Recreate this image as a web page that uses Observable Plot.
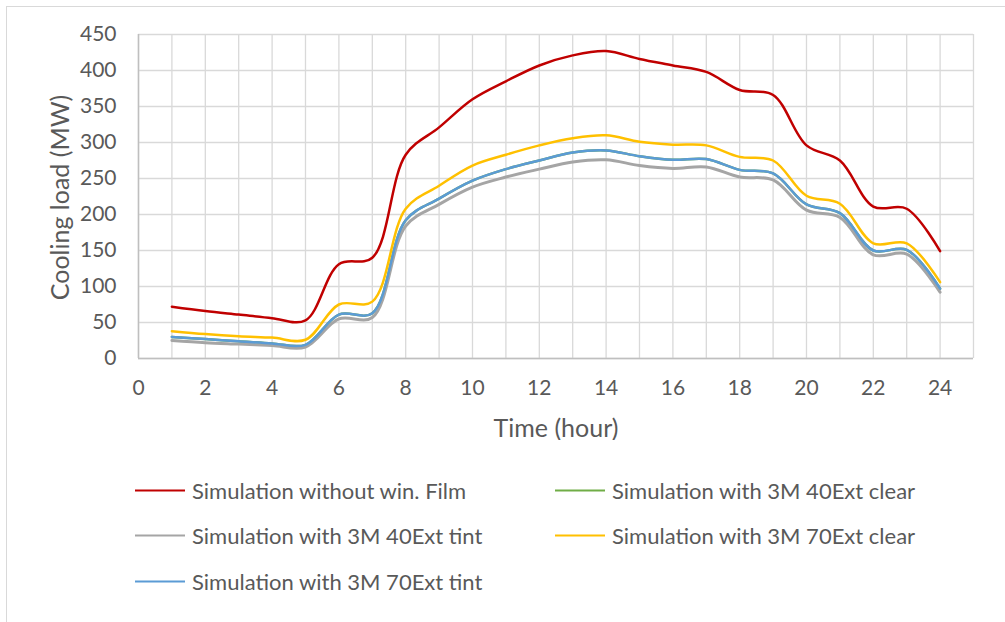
<!DOCTYPE html>
<html>
<head>
<meta charset="utf-8">
<script src="https://cdn.jsdelivr.net/npm/d3@7"></script>
<script src="https://cdn.jsdelivr.net/npm/@observablehq/plot@0.6"></script>
<style>
  html, body { margin: 0; padding: 0; background: #fff; }
  #wrap { position: relative; width: 1005px; height: 622px; font-family: Lato, "Open Sans", sans-serif; overflow: hidden; }
  #frame { position: absolute; left: 6px; top: 6px; width: 1010px; height: 630px; border: 1px solid #d9d9d9; box-sizing: border-box; }
  #chart { position: absolute; left: 0; top: 0; }
  .leg { position: absolute; display: flex; align-items: center; font-size: 22px; color: #595959; white-space: nowrap; transform: translateY(-50%); }
  .leg .sw { width: 50px; height: 0; border-top: 2.5px solid; margin-right: 7px; }
</style>
</head>
<body>
<div id="wrap">
  <div id="frame"></div>
  <div id="chart"></div>
  <div id="legend"></div>
</div>
<script>
const hours = [1,2,3,4,5,6,7,8,9,10,11,12,13,14,15,16,17,18,19,20,21,22,23,24];
const seriesNames = [
  "Simulation without win. Film",
  "Simulation with 3M 40Ext clear",
  "Simulation with 3M 40Ext tint",
  "Simulation with 3M 70Ext clear",
  "Simulation with 3M 70Ext tint"
];
const seriesColors = ["#C00000", "#70AD47", "#A5A5A5", "#FFC000", "#5B9BD5"];
const noFilm    = [72,66,61,56,53,131,140,283,321,360,385,407,421,427,416,407,398,373,366,296,275,211,208,149];
const ext40Clear= [30,27,24,21,19,61,63,192,222,247,263,275,286,289,281,276,277,262,257,214,202,150,151,97];
const ext40Tint = [25,22,20,18,16,55,57,184,214,238,252,263,273,276,268,264,266,252,248,206,196,144,145,92];
const ext70Clear= [38,34,31,29,26,75,79,208,240,268,283,296,306,310,301,297,296,280,275,226,215,160,160,106];
const ext70Tint = [30,27,24,21,19,61,63,192,222,247,263,275,286,289,281,276,277,262,257,214,202,150,151,97];
const xTicks = [0,2,4,6,8,10,12,14,16,18,20,22,24];
const yTicks = [0,50,100,150,200,250,300,350,400,450];
const xTitle = "Time (hour)";
const yTitle = "Cooling load (MW)";

const seriesValues = [noFilm, ext40Clear, ext40Tint, ext70Clear, ext70Tint];
// draw order: green under blue
const drawOrder = [1, 2, 4, 3, 0];
const rows = [];
for (const i of drawOrder) {
  hours.forEach((h, k) => rows.push({series: seriesNames[i], hour: h, value: seriesValues[i][k]}));
}

const chart = Plot.plot({
  width: 1005,
  height: 440,
  marginLeft: 138,
  marginRight: 32,
  marginTop: 34,
  marginBottom: 82,
  style: {fontFamily: "Lato, 'Open Sans', sans-serif", background: "transparent"},
  x: {domain: [0, 25], axis: null},
  y: {domain: [0, 450], axis: null},
  color: {domain: seriesNames, range: seriesColors},
  marks: [
    Plot.gridX(d3.range(0, 26), {stroke: "#d9d9d9", strokeOpacity: 1, strokeWidth: 1.3}),
    Plot.gridY(yTicks, {stroke: "#d9d9d9", strokeOpacity: 1, strokeWidth: 1.3}),
    Plot.ruleX([0], {stroke: "#bfbfbf", strokeWidth: 1.5}),
    Plot.ruleY([0], {stroke: "#bfbfbf", strokeWidth: 1.5}),
    Plot.axisX(xTicks, {tickSize: 0, tickPadding: 22, fontSize: 21, fill: "#595959", label: null}),
    Plot.axisY(yTicks, {tickSize: 0, tickPadding: 22, fontSize: 21, fill: "#595959", label: null}),
    Plot.text([yTitle], {frameAnchor: "left", dx: -78, dy: 1, rotate: -90, textAnchor: "middle", lineAnchor: "middle", fontSize: 25, fill: "#595959"}),
    Plot.text([xTitle], {frameAnchor: "bottom", dy: 70, textAnchor: "middle", lineAnchor: "middle", fontSize: 25, fill: "#595959"}),
    Plot.line(rows, {
      x: "hour", y: "value", z: "series", stroke: "series",
      strokeWidth: d => d.series === seriesNames[2] ? 3 : 2.5,
      curve: "catmull-rom"
    })
  ]
});
document.getElementById("chart").appendChild(chart);

// legend
const legendPos = [
  {i: 0, x: 135, y: 490},
  {i: 1, x: 555, y: 490},
  {i: 2, x: 135, y: 535},
  {i: 3, x: 555, y: 535},
  {i: 4, x: 135, y: 581}
];
const legend = document.getElementById("legend");
for (const p of legendPos) {
  const d = document.createElement("div");
  d.className = "leg";
  d.style.left = p.x + "px";
  d.style.top = p.y + "px";
  const sw = document.createElement("span");
  sw.className = "sw";
  sw.style.borderTopColor = seriesColors[p.i];
  const t = document.createElement("span");
  t.textContent = seriesNames[p.i];
  d.appendChild(sw); d.appendChild(t);
  legend.appendChild(d);
}
</script>
</body>
</html>
